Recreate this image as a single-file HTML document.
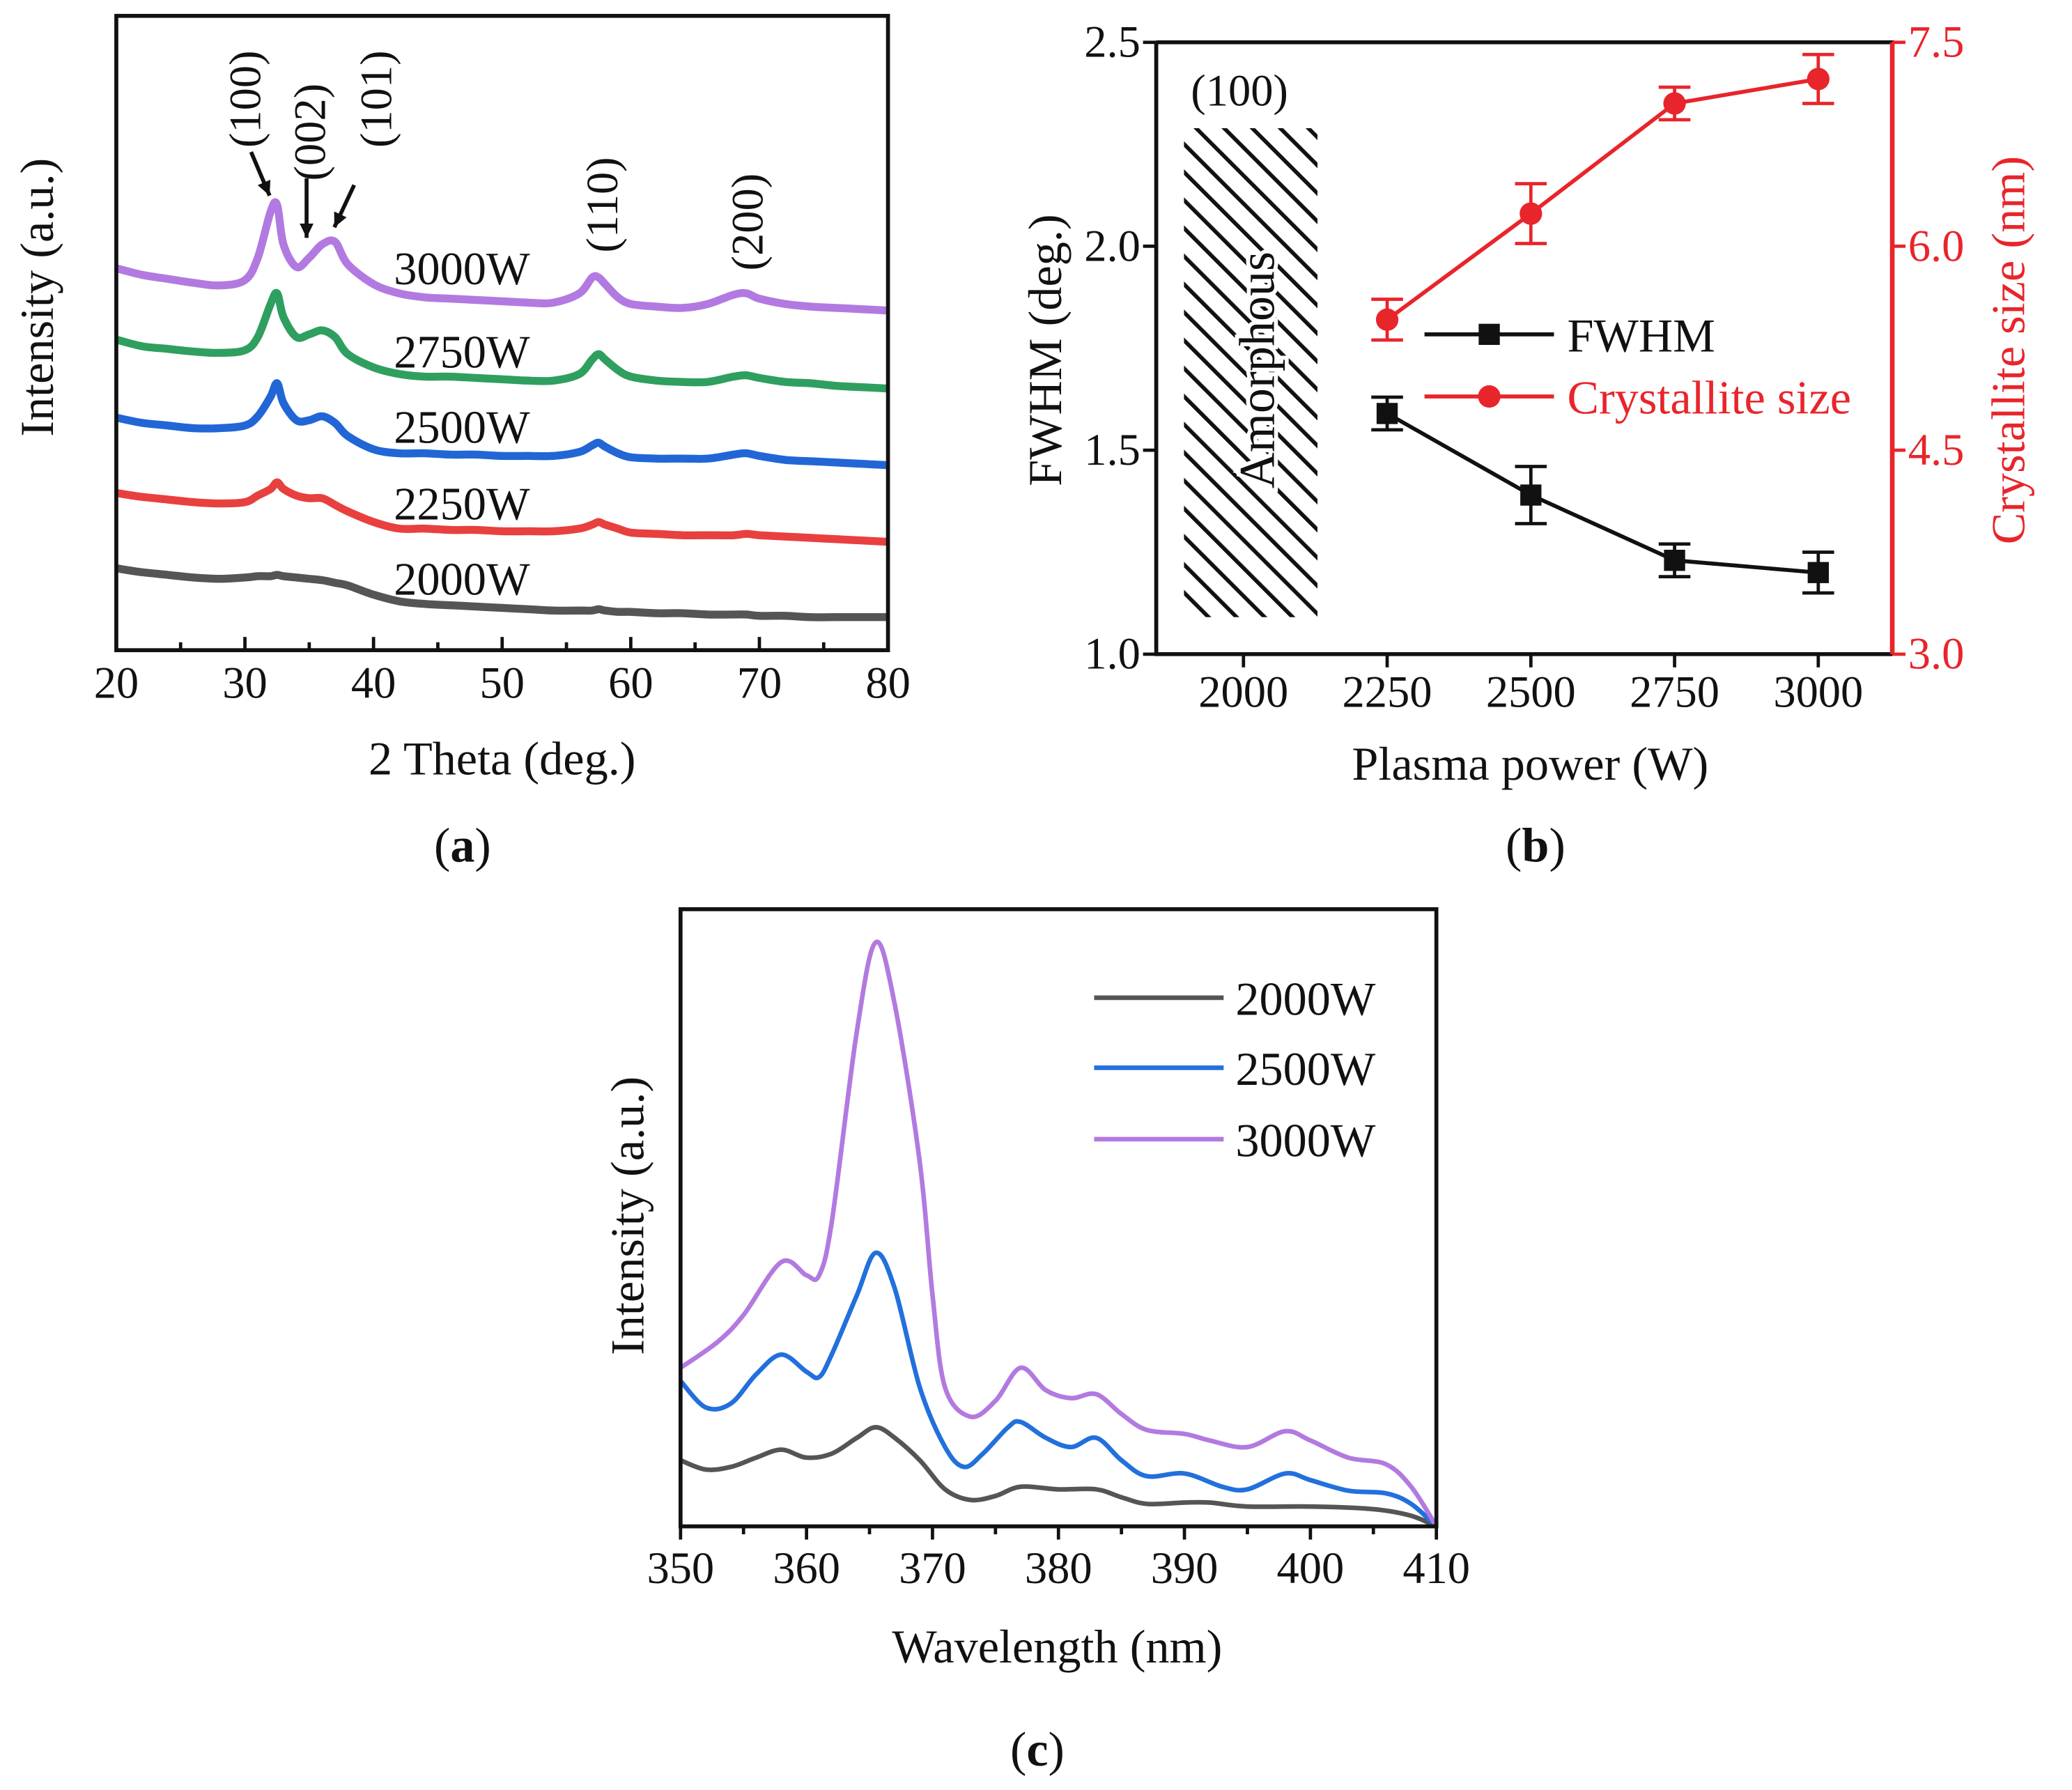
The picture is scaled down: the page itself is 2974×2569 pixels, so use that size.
<!DOCTYPE html>
<html><head><meta charset="utf-8"><style>
html,body{margin:0;padding:0;background:#fff}
svg{display:block}
text{font-family:"Liberation Serif",serif;fill:#111}
</style></head><body>
<svg id="fig" width="2974" height="2569" viewBox="0 0 1568 1354.5" xmlns="http://www.w3.org/2000/svg">
<defs>
<pattern id="hatch" patternUnits="userSpaceOnUse" width="15" height="15" patternTransform="rotate(-45)">
<rect width="15" height="15" fill="#fff"/><line x1="0" y1="0" x2="0" y2="15" stroke="#111" stroke-width="6"/>
</pattern>
</defs>
<g id="pa"></g>
<g id="pb"></g>
<g id="pc"></g>
</svg>
<script>
// ===== Panel (a) data =====
const xrdTheta=[20,22,24,26,28,30,31,32,32.5,33,34,35,36,37,38,40,42,44,46,48,50,52,54,56,57,57.5,58,59,60,62,64,66,68,69,70,72,74,76,78,80];
const xrd2000=[62,59,57,55,54,55,56,56,57,56,55,54,53,51,49,42,37,35,34,33,32,31,30,30,30,31,30,29,29,28,28,27,27,27,26,26,25,25,25,25];
const xrd2250=[119,116,114,112,111,112,117,122,127,122,117,115,115,110,105,97,92,92,91,91,90,90,90,92,95,97,95,92,89,88,87,87,87,88,87,86,85,84,83,82];
const xrd2500=[176,172,170,168,168,170,177,192,202,187,174,174,177,172,162,152,149,149,148,148,147,147,147,150,155,157,154,149,146,145,145,145,148,149,147,144,143,142,141,140];
const xrd2750=[235,230,228,226,225,227,237,262,270,252,237,239,242,237,224,214,209,207,207,206,205,204,204,209,220,224,220,212,207,204,203,203,207,208,206,203,202,200,199,198];
const xrd3000=[289,284,281,278,276,280,297,332,337,307,290,297,307,309,292,277,270,267,266,265,264,263,263,270,282,282,277,267,262,260,259,262,269,270,266,262,260,259,258,257];
const xrdTicks=[20,30,40,50,60,70,80];
// ===== Panel (b) data =====
const powers=[2250,2500,2750,3000];
const fwhm=[1.59,1.39,1.23,1.20];
const fwhmErr=[0.04,0.07,0.04,0.05];
const csize=[5.46,6.24,7.05,7.23];
const csizeErr=[0.15,0.22,0.12,0.18];
const powerTicks=[2000,2250,2500,2750,3000];
const fwhmTicks=[1.0,1.5,2.0,2.5];
const sizeTicks=[3.0,4.5,6.0,7.5];
// ===== Panel (c) data =====
const wl2000=[350,352,354,356,358,360,362,364,365.5,367,369,371,373,375,377,380,383,385,387,390,392,395,400,405,408,410];
const pl2000=[50,43,45,52,58,52,55,67,75,67,50,28,20,23,30,28,28,22,17,18,18,15,15,13,8,0];
const wl2500=[350,352,354,356,358,360,361,362,364,365.5,367,369,371,372.5,374,376,377,379,381,383,385,387,390,393,395,398,400,403,406,408,410];
const pl2500=[110,90,93,115,130,117,113,130,175,207,180,105,60,45,55,75,79,67,60,67,50,38,40,30,28,40,35,27,25,17,0];
const wl3000=[350,353,355,358,360,361,362,364,365.5,367,369,370,371,373,375,377,379,381,383,385,387,390,392,395,398,400,403,406,408,410];
const pl3000=[120,140,160,200,190,190,230,375,442,395,275,175,105,83,95,120,103,97,100,85,73,70,65,60,72,65,52,47,30,0];
const plTicks=[350,360,370,380,390,400,410];

const NS="http://www.w3.org/2000/svg";
function mk(parent,tag,attrs,txt){const e=document.createElementNS(NS,tag);for(const k in attrs)e.setAttribute(k,attrs[k]);if(txt!==undefined)e.textContent=txt;parent.appendChild(e);return e;}
function pathD(xs,ys,fx,fy){return xs.map((x,i)=>(i?'L':'M')+fx(x).toFixed(1)+','+fy(ys[i]).toFixed(1)).join(' ');}
function smoothD(xs,ys,fx,fy){
 const P=xs.map((x,i)=>[fx(x),fy(ys[i])]);
 let d='M'+P[0][0].toFixed(1)+','+P[0][1].toFixed(1);
 for(let i=0;i<P.length-1;i++){
  const p0=P[i-1]||P[i],p1=P[i],p2=P[i+1],p3=P[i+2]||P[i+1];
  const c1=[p1[0]+(p2[0]-p0[0])/6,p1[1]+(p2[1]-p0[1])/6];
  const c2=[p2[0]-(p3[0]-p1[0])/6,p2[1]-(p3[1]-p1[1])/6];
  d+=`C${c1[0].toFixed(1)},${c1[1].toFixed(1)} ${c2[0].toFixed(1)},${c2[1].toFixed(1)} ${p2[0].toFixed(1)},${p2[1].toFixed(1)}`;
 }
 return d;
}

// ---------- Panel A ----------
(function(){
const g=document.getElementById('pa');
const L=88,R=672,T=12,B=492;
const fx=v=>L+(v-20)/60*(R-L), fy=v=>B-v;
const series=[[xrd2000,'#555555','2000W',438],[xrd2250,'#e8403f','2250W',381],[xrd2500,'#2266d6','2500W',323],[xrd2750,'#2f9f5f','2750W',266],[xrd3000,'#b27ae0','3000W',203]];
series.forEach(s=>{
 const p=mk(g,'path',{d:smoothD(xrdTheta,s[0],fx,fy),fill:'none',stroke:s[1],'stroke-width':6,'stroke-linejoin':'round'});
 
 
 const t=mk(g,'text',{x:298,y:s[3]+12,'font-size':35},s[2]);
 
 
});
const box=mk(g,'rect',{x:L,y:T,width:R-L,height:B-T,fill:'none',stroke:'#111','stroke-width':3});


for(let v=20;v<=80;v+=5){
 const major=v%10===0;
 const tk=mk(g,'line',{x1:fx(v),x2:fx(v),y1:B,y2:B-(major?10:6),stroke:'#111','stroke-width':2.5});
 
 
}
xrdTicks.forEach(v=>{
 const t=mk(g,'text',{x:fx(v),y:528,'font-size':34,'text-anchor':'middle'},String(v));
 
 
});
let t=mk(g,'text',{x:380,y:586,'font-size':36,'text-anchor':'middle'},'2 Theta (deg.)');

t=mk(g,'text',{x:0,y:0,'font-size':36,'text-anchor':'middle',transform:'translate(40,225) rotate(-90)'},'Intensity (a.u.)');

[['(100)',197,75],['(002)',246,100],['(101)',296,75],['(110)',467,155],['(200)',577,168]].forEach(a=>{
 const e=mk(g,'text',{x:0,y:0,'font-size':34,'text-anchor':'middle',transform:`translate(${a[1]},${a[2]}) rotate(-90)`},a[0]);
 
 
});
[[190,115,204,148],[232,135,232,180],[268,140,253,172]].forEach(a=>{
 const l=mk(g,'line',{x1:a[0],y1:a[1],x2:a[2],y2:a[3],stroke:'#111','stroke-width':3});
 
 const ang=Math.atan2(a[3]-a[1],a[2]-a[0]);
 const hx=a[2],hy=a[3],s=12;
 const p=mk(g,'polygon',{points:`${hx},${hy} ${hx-s*Math.cos(ang-0.45)},${hy-s*Math.sin(ang-0.45)} ${hx-s*Math.cos(ang+0.45)},${hy-s*Math.sin(ang+0.45)}`,fill:'#111'});
 
});
t=mk(g,'text',{x:350,y:652,'font-size':37,'text-anchor':'middle'},'');
t.innerHTML='(<tspan font-weight="bold">a</tspan>)';

})();

// ---------- Panel B ----------
(function(){
const g=document.getElementById('pb');
const L=875,R=1432,T=32,B=495;
const fx=v=>941+(v-2000)/1000*(1376-941);
const fy=v=>B-(v-1.0)/1.5*(B-T);
const fy2=v=>B-(v-3.0)/4.5*(B-T);
const red='#e8252b';
let e=mk(g,'rect',{x:896,y:97,width:101,height:370,fill:'url(#hatch)'});

e=mk(g,'text',{x:938,y:80,'font-size':34,'text-anchor':'middle'},'(100)');

e=mk(g,'text',{x:0,y:0,'font-size':38,'text-anchor':'middle',transform:'translate(964,280) rotate(-90)',style:'paint-order:stroke;stroke:#fff;stroke-width:6px'},'Amorphous');

e=mk(g,'path',{d:pathD(powers,fwhm,fx,fy),fill:'none',stroke:'#111','stroke-width':3});

e=mk(g,'path',{d:pathD(powers,csize,fx,fy2),fill:'none',stroke:red,'stroke-width':3});

powers.forEach((p,i)=>{
 const x=fx(p);
 let y1=fy(fwhm[i]+fwhmErr[i]),y2=fy(fwhm[i]-fwhmErr[i]);
 let b=mk(g,'path',{d:`M${x},${y1}V${y2}M${x-12},${y1}H${x+12}M${x-12},${y2}H${x+12}`,stroke:'#111','stroke-width':2.5,fill:'none'});
 
 b=mk(g,'rect',{x:x-8,y:fy(fwhm[i])-8,width:16,height:16,fill:'#111'});
 
 y1=fy2(csize[i]+csizeErr[i]);y2=fy2(csize[i]-csizeErr[i]);
 b=mk(g,'path',{d:`M${x},${y1}V${y2}M${x-12},${y1}H${x+12}M${x-12},${y2}H${x+12}`,stroke:red,'stroke-width':2.5,fill:'none'});
 
 b=mk(g,'circle',{cx:x,cy:fy2(csize[i]),r:8.5,fill:red});
 
});
e=mk(g,'path',{d:`M${L},${T}H${R}V${B}`,fill:'none',stroke:'#111','stroke-width':3});

e=mk(g,'path',{d:`M${L},${T}V${B}H${R}`,fill:'none',stroke:'#111','stroke-width':3});

e=mk(g,'line',{x1:R,y1:T,x2:R,y2:B,stroke:red,'stroke-width':3.5});

powerTicks.forEach(v=>{
 let k=mk(g,'line',{x1:fx(v),x2:fx(v),y1:B,y2:B+10,stroke:'#111','stroke-width':2.5});
 
 k=mk(g,'text',{x:fx(v),y:535,'font-size':34,'text-anchor':'middle'},String(v));
 
});
fwhmTicks.forEach(v=>{
 let k=mk(g,'line',{x1:L,x2:L-10,y1:fy(v),y2:fy(v),stroke:'#111','stroke-width':2.5});
 
 k=mk(g,'text',{x:L-12,y:fy(v)+11,'font-size':34,'text-anchor':'end'},v.toFixed(1));
 
});
sizeTicks.forEach(v=>{
 let k=mk(g,'line',{x1:R,x2:R+10,y1:fy2(v),y2:fy2(v),stroke:red,'stroke-width':2.5});
 
 k=mk(g,'text',{x:R+12,y:fy2(v)+11,'font-size':34,style:'fill:'+red},v.toFixed(1));
 
});
e=mk(g,'text',{x:1158,y:590,'font-size':36,'text-anchor':'middle'},'Plasma power (W)');

e=mk(g,'text',{x:0,y:0,'font-size':36,'text-anchor':'middle',transform:'translate(803,265) rotate(-90)'},'FWHM (deg.)');

e=mk(g,'text',{x:0,y:0,'font-size':36,'text-anchor':'middle',style:'fill:'+red,transform:'translate(1532,265) rotate(-90)'},'Crystallite size (nm)');

e=mk(g,'line',{x1:1078,x2:1176,y1:253,y2:253,stroke:'#111','stroke-width':3});

e=mk(g,'rect',{x:1119,y:245,width:16,height:16,fill:'#111'});

e=mk(g,'text',{x:1186,y:266,'font-size':36},'FWHM');

e=mk(g,'line',{x1:1078,x2:1176,y1:300,y2:300,stroke:red,'stroke-width':3});

e=mk(g,'circle',{cx:1127,cy:300,r:8.5,fill:red});

e=mk(g,'text',{x:1186,y:313,'font-size':36,style:'fill:'+red},'Crystallite size');

e=mk(g,'text',{x:1162,y:652,'font-size':37,'text-anchor':'middle'},'');
e.innerHTML='(<tspan font-weight="bold">b</tspan>)';

})();

// ---------- Panel C ----------
(function(){
const g=document.getElementById('pc');
const L=515,R=1087,T=688,B=1155;
const fx=v=>L+(v-350)/60*(R-L), fy=v=>B-v;
const series=[[wl2000,pl2000,'#555555','2000W',755],[wl2500,pl2500,'#2270dc','2500W',808],[wl3000,pl3000,'#b27ae0','3000W',862]];
series.forEach(s=>{
 let p=mk(g,'path',{d:smoothD(s[0],s[1],fx,fy),fill:'none',stroke:s[2],'stroke-width':3.5,'stroke-linejoin':'round'});
 
 p=mk(g,'line',{x1:828,x2:926,y1:s[4],y2:s[4],stroke:s[2],'stroke-width':3.5});
 
 p=mk(g,'text',{x:935,y:s[4]+13,'font-size':36},s[3]);
 
});
let e=mk(g,'rect',{x:L,y:T,width:R-L,height:B-T,fill:'none',stroke:'#111','stroke-width':3});

for(let v=350;v<=410;v+=5){
 const major=v%10===0;
 const k=mk(g,'line',{x1:fx(v),x2:fx(v),y1:B,y2:B+(major?10:6),stroke:'#111','stroke-width':2.5});
 
}
plTicks.forEach(v=>{
 const k=mk(g,'text',{x:fx(v),y:1198,'font-size':34,'text-anchor':'middle'},String(v));
 
});
e=mk(g,'text',{x:800,y:1258,'font-size':36,'text-anchor':'middle'},'Wavelength (nm)');

e=mk(g,'text',{x:0,y:0,'font-size':36,'text-anchor':'middle',transform:'translate(487,920) rotate(-90)'},'Intensity (a.u.)');

e=mk(g,'text',{x:785,y:1336,'font-size':37,'text-anchor':'middle'},'');
e.innerHTML='(<tspan font-weight="bold">c</tspan>)';

})();
</script>
</body></html>
